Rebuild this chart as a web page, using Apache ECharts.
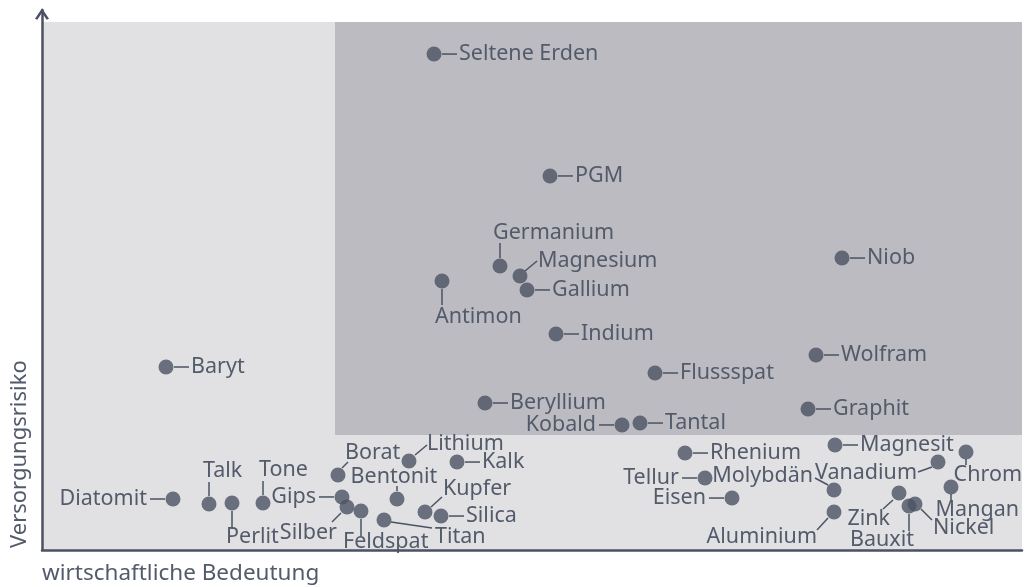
<!DOCTYPE html>
<html>
<head>
<meta charset="utf-8">
<script src="https://cdn.jsdelivr.net/npm/echarts@6/dist/echarts.min.js"></script>
<style>
    html, body { margin: 0; padding: 0; background: #fff; }
    #chart { width: 1027px; height: 587px; }
</style>
</head>
<body>
<div id="chart"></div>
<script>
// Rohstoffe: wirtschaftliche Bedeutung (x) und Versorgungsrisiko (y)
const minerals = ['Seltene Erden', 'PGM', 'Germanium', 'Magnesium', 'Gallium', 'Antimon', 'Indium', 'Flussspat',
    'Beryllium', 'Kobald', 'Tantal', 'Niob', 'Wolfram', 'Graphit', 'Baryt', 'Magnesit', 'Chrom', 'Vanadium',
    'Molybdän', 'Mangan', 'Zink', 'Bauxit', 'Nickel', 'Aluminium', 'Rhenium', 'Tellur', 'Eisen', 'Diatomit',
    'Talk', 'Perlit', 'Tone', 'Gips', 'Silber', 'Feldspat', 'Borat', 'Bentonit', 'Lithium', 'Kalk', 'Kupfer',
    'Silica', 'Titan']
const bedeutung = [39.2, 50.8, 45.8, 47.8, 48.5, 40.0, 51.4, 61.3,
    44.3, 58.0, 59.8, 80.0, 77.4, 76.6, 12.4, 79.3, 92.4, 89.6,
    79.2, 90.9, 85.7, 86.7, 87.3, 79.2, 64.3, 66.3, 69.0, 13.1,
    16.7, 19.0, 22.1, 30.0, 30.5, 31.9, 29.6, 35.5, 36.7, 41.5, 38.3,
    39.9, 34.2]
const risiko = [41.33, 31.17, 23.67, 22.83, 21.67, 22.42, 18.0, 14.75,
    12.25, 10.42, 10.58, 24.33, 16.25, 11.75, 15.25, 8.75, 8.17, 7.33,
    5.0, 5.25, 4.75, 3.67, 3.83, 3.17, 8.08, 6.0, 4.33, 4.25,
    3.83, 3.92, 3.92, 4.42, 3.58, 3.25, 6.25, 4.25, 7.42, 7.33, 3.17,
    2.83, 2.5]
// kritischer Bereich
const criticalMin = [29.3, 9.58]
const axisMax = [98, 45]
const plotTop = 44

const dotColor = '#4b5263'
const textColor = '#535b6a'
const fontFamily = '"Noto Sans", sans-serif'

// Beschriftung: Linie [x1, y1, x2, y2] und Text [dx, dy] relativ zum Punkt (px)
const rightLabel = { line: [8, 0, 23, 0], text: [25, 0], align: 'left' }
const leftLabel = { line: [-8, 0, -23, 0], text: [-26, 0], align: 'right' }
const leftNames = ['Diatomit', 'Gips', 'Kobald', 'Tellur', 'Eisen']
const labelLayout = {
    'Germanium': { line: [0, -8, 0, -23], text: [-7, -33], align: 'left' },
    'Magnesium': { line: [5, -5, 17, -15], text: [18, -15], align: 'left' },
    'Antimon': { line: [0, 8, 0, 24], text: [-7, 36], align: 'left' },
    'Chrom': { line: [0, 7, 0, 13], text: [56, 23], align: 'right' },
    'Vanadium': { line: [-6, 5, -20, 10], text: [-21, 11], align: 'right' },
    'Molybdän': { line: [-6, -5, -19, -12], text: [-21, -14], align: 'right' },
    'Mangan': { line: [0, 7, 0, 13], text: [68, 23], align: 'right' },
    'Zink': { line: [-6, 7, -16, 16], text: [-9, 26], align: 'right' },
    'Bauxit': { line: [0, 8, 0, 25], text: [5, 34], align: 'right' },
    'Nickel': { line: [6, 5, 17, 16], text: [18, 24], align: 'left' },
    'Aluminium': { line: [-6, 6, -17, 18], text: [-17, 25], align: 'right' },
    'Talk': { line: [0, -8, 0, -22], text: [-6, -33], align: 'left' },
    'Tone': { line: [0, -8, 0, -22], text: [-4, -33], align: 'left' },
    'Perlit': { line: [0, 8, 0, 26], text: [-6, 34], align: 'left' },
    'Silber': { line: [-6, 6, -15, 15], text: [-10, 26], align: 'right' },
    'Feldspat': { line: [0, 8, 0, 25], text: [-18, 31], align: 'left' },
    'Titan': { line: [7, 2, 48, 8], text: [51, 17], align: 'left' },
    'Kupfer': { line: [6, -5, 17, -15], text: [18, -23], align: 'left' },
    'Lithium': { line: [6, -6, 18, -16], text: [18, -17], align: 'left' },
    'Borat': { line: [4, -7, 10, -13], text: [7, -22], align: 'left' },
    'Bentonit': { line: [0, -8, 0, -13], text: [-3, -22], align: 'center' }
}

function renderLabel (params, api) {
    const name = minerals[params.dataIndex]
    const p = api.coord([api.value(0), api.value(1)])
    const l = labelLayout[name] || (leftNames.indexOf(name) >= 0 ? leftLabel : rightLabel)
    return {
        type: 'group',
        children: [
            {
                type: 'line',
                shape: { x1: p[0] + l.line[0], y1: p[1] + l.line[1], x2: p[0] + l.line[2], y2: p[1] + l.line[3] },
                style: { stroke: dotColor, lineWidth: 1.5 }
            },
            {
                type: 'text',
                x: p[0] + l.text[0],
                y: p[1] + l.text[1],
                style: {
                    text: name,
                    fill: textColor,
                    fontSize: 21.5,
                    fontFamily: fontFamily,
                    align: l.align,
                    verticalAlign: 'middle'
                }
            }
        ]
    }
}

const arrowPath = 'path://M0,9 L6,0 L12,9 L10,10 L6,4 L2,10 Z'
const points = minerals.map((n, i) => [bedeutung[i], risiko[i]])

const chart = echarts.init(document.getElementById('chart'))
chart.setOption({
    animation: false,
    grid: { left: 42, right: 5, top: 10, bottom: 37 },
    xAxis: {
        type: 'value',
        min: 0,
        max: axisMax[0],
        z: 5,
        splitLine: { show: false },
        axisTick: { show: false },
        axisLabel: { show: false },
        axisLine: {
            show: true,
            lineStyle: { color: dotColor, width: 2.5 }
        }
    },
    yAxis: {
        type: 'value',
        min: 0,
        max: axisMax[1],
        z: 5,
        splitLine: { show: false },
        axisTick: { show: false },
        axisLabel: { show: false },
        axisLine: {
            show: true,
            symbol: ['none', arrowPath],
            symbolSize: [14, 12],
            symbolOffset: [0, -4],
            lineStyle: { color: dotColor, width: 2.5 }
        }
    },
    graphic: [
        {
            type: 'text',
            left: 42,
            top: 562,
            style: { text: 'wirtschaftliche Bedeutung', fill: textColor, fontSize: 22.5, fontFamily: fontFamily }
        },
        {
            type: 'text',
            x: 20,
            y: 548,
            rotation: Math.PI / 2,
            style: {
                text: 'Versorgungsrisiko',
                fill: textColor,
                fontSize: 22,
                fontFamily: fontFamily,
                align: 'left',
                verticalAlign: 'middle'
            }
        }
    ],
    series: [
        {
            type: 'scatter',
            data: points,
            symbolSize: 15,
            itemStyle: { color: dotColor },
            silent: true,
            markArea: {
                silent: true,
                data: [
                    [{ coord: [0, 0], itemStyle: { color: '#e1e1e4' } }, { coord: [axisMax[0], plotTop] }],
                    [{ coord: criticalMin, itemStyle: { color: '#bcbbc1' } }, { coord: [axisMax[0], plotTop] }]
                ]
            }
        },
        {
            type: 'custom',
            data: points,
            renderItem: renderLabel,
            clip: false,
            silent: true,
            z: 3
        }
    ]
})
</script>
</body>
</html>
